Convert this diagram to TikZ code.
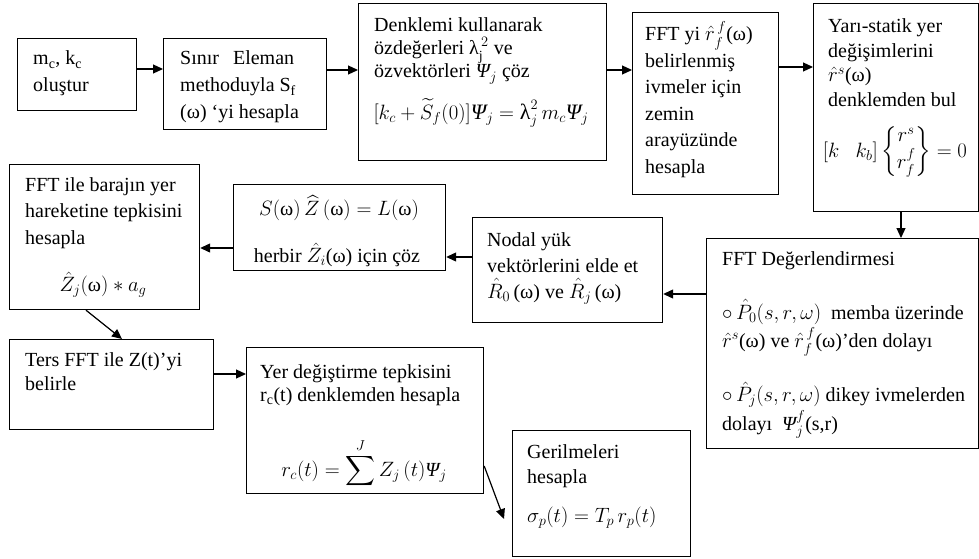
\documentclass[tikz,border=0pt]{standalone}
\usepackage{amsmath}
\usepackage{fontspec}
\setmainfont{Liberation Serif}
\usetikzlibrary{arrows.meta}
\newcommand\lsp[1]{\fontsize{20}{#1}\selectfont}
\newcommand\msz[1]{\fontsize{#1}{#1}\selectfont}
\newcommand\omg{\text{ω}}
\newcommand\Psit{\text{\itshape Ψ}}
\newcommand\lines[1]{\vtop{\lineskiplimit=-100pt\lineskip=0pt\halign{##\hfil\cr#1\crcr}}}
\tikzset{
  box/.style={draw, line width=1.2pt, anchor=north west, inner sep=0pt},
  txt/.style={anchor=base west, inner sep=0pt},
  fml/.style={anchor=center, inner sep=0pt, font=\msz{20}},
  arr/.style={line width=1.2pt, -{Triangle[length=10pt,width=9pt]}},
}
\begin{document}
\begin{tikzpicture}[x=1pt,y=-1pt]
\useasboundingbox (0,0) rectangle (979,559);
% boxes
\node[box, minimum width=119pt, minimum height=72pt]  (A) at (17,38) {};
\node[box, minimum width=163pt, minimum height=91pt]  (B) at (163,38) {};
\node[box, minimum width=248pt, minimum height=157pt] (C) at (358,3) {};
\node[box, minimum width=146pt, minimum height=182pt] (D) at (632,12) {};
\node[box, minimum width=165pt, minimum height=208pt] (E) at (813,3) {};
\node[box, minimum width=272pt, minimum height=210pt] (F) at (706,238) {};
\node[box, minimum width=190pt, minimum height=105pt] (K) at (472,217) {};
\node[box, minimum width=212pt, minimum height=86pt]  (H) at (233,184) {};
\node[box, minimum width=190pt, minimum height=145pt] (G) at (9,164) {};
\node[box, minimum width=204pt, minimum height=90pt]  (I) at (9,339) {};
\node[box, minimum width=237pt, minimum height=146pt] (J) at (246,347) {};
\node[box, minimum width=178pt, minimum height=126pt] (L) at (512,430) {};
% texts
\node[txt, font=\lsp{27}] (At) at (33,65) {\lines{m\textsubscript{c}, k\textsubscript{c}\cr oluştur}};
\node[txt, font=\lsp{27}] (Bt) at (180,65) {\lines{Sınır\hspace{0.7em}Eleman\cr methoduyla S\textsubscript{f}\cr (ω) ‘yi hesapla}};
\node[txt, font=\lsp{23}] (Ct) at (374,32) {\lines{Denklemi kullanarak\cr özdeğerleri $\text{λ}_{\mathrm{j}}^{\,2}$ ve\cr özvektörleri $\Psit_j$ çöz}};
\node[fml, font=\msz{22}] (Cf) at (481,113) {$[k_c+\widetilde{S}_f(0)]\Psit_j=\text{λ}_j^2\, m_c\Psit_j$};
\node[txt, font=\lsp{26.5}] (Dt) at (645,41) {\lines{FFT yi $\hat{r}_f^{\,f}$(ω)\cr belirlenmiş\cr ivmeler için\cr zemin\cr arayüzünde\cr hesapla}};
\node[txt, font=\lsp{24.5}] (Et) at (828,33) {\lines{Yarı-statik yer\cr değişimlerini\cr $\hat{r}^s$(ω)\cr denklemden bul}};
\node[fml, font=\msz{21.5}] (Ef) at (895,152) {$[k\ \ \ k_b]\left\{\begin{matrix} r^s\\ r_f^f\end{matrix}\right\}=0$};
\node[txt, font=\lsp{28.5}] (Ft) at (722,265) {\lines{FFT Değerlendirmesi\cr\noalign{\vskip25.5pt}
  $\circ\,\hat{P}_0(s,r,\omega)$\ \ memba üzerinde\cr
  $\hat{r}^s$(ω) ve $\hat{r}_f^{\,f}$(ω)’den dolayı\cr\noalign{\vskip25.5pt}
  $\circ\,\hat{P}_j(s,r,\omega)$ dikey ivmelerden\cr
  dolayı\ \ $\Psit_j^f$(s,r)}};
\node[txt, font=\lsp{26}] (Kt) at (487,246) {\lines{Nodal yük\cr vektörlerini elde et\cr $\hat{R}_0$\,(ω) ve $\hat{R}_j$\,(ω)}};
\node[fml] (Hf) at (339,208) {$S(\omg)\,\widehat{Z}\,(\omg)=L(\omg)$};
\node[fml] (Ht) at (337,255) {herbir $\hat{Z}_i$(ω) için çöz};
\node[txt, font=\lsp{26.5}] (Gt) at (25,191) {\lines{FFT ile barajın yer\cr hareketine tepkisini\cr hesapla}};
\node[fml] (Gf) at (103,285) {$\hat{Z}_j(\omg)*a_g$};
\node[txt, font=\lsp{24}] (It) at (25,366) {\lines{Ters FFT ile Z(t)’yi\cr belirle}};
\node[txt, font=\lsp{23}] (Jt) at (260,378) {\lines{Yer değiştirme tepkisini\cr r\textsubscript{c}(t) denklemden hesapla}};
\node[anchor=base, inner sep=0pt, font=\msz{20}] (Jf) at (364,476) {$\displaystyle r_c(t)=\sum^{J} Z_j\,(t)\Psit_j$};
\node[txt, font=\lsp{25}] (Lt) at (527,458) {\lines{Gerilmeleri\cr hesapla}};
\node[txt, font=\msz{22.5}] (Lf) at (527,522) {$\sigma_p(t)=T_p\,r_p(t)$};
% connectors
\coordinate (Ltip) at (504,519);
\draw[arr] (A.east |- 0,69) -- (B.west |- 0,69);
\draw[arr] (B.east |- 0,70) -- (C.west |- 0,70);
\draw[arr] (C.east |- 0,70) -- (D.west |- 0,70);
\draw[arr] (D.east |- 0,67) -- (E.west |- 0,67);
\draw[arr] (E.south -| 901,0) -- (F.north -| 901,0);
\draw[arr] (F.west |- 0,294) -- (K.east |- 0,294);
\draw[arr] (K.west |- 0,257) -- (H.east |- 0,257);
\draw[arr] (H.west |- 0,248) -- (G.east |- 0,248);
\draw[arr] (G.south -| 86,0) -- (I.north -| 122,0);
\draw[arr] (I.east |- 0,374) -- (J.west |- 0,374);
\draw[arr] (J.east |- 0,466) -- (Ltip);
\end{tikzpicture}
\end{document}
